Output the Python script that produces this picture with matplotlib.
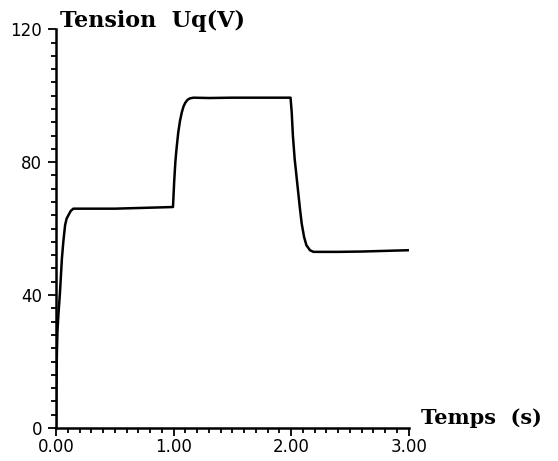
import matplotlib
matplotlib.use("Agg")
from matplotlib import pyplot as plt
from matplotlib.ticker import MultipleLocator
import numpy as np

# time (s) and voltage Uq (V)
temps = [0.0, 0.003, 0.007, 0.012, 0.02, 0.034, 0.05, 0.062, 0.077, 0.09, 0.105,
         0.125, 0.147, 0.3, 0.5, 0.7, 0.9, 0.995,
         1.005, 1.015, 1.025, 1.04, 1.055, 1.07, 1.085, 1.1, 1.12, 1.14, 1.17,
         1.3, 1.5, 1.7, 1.9, 1.995,
         2.005, 2.015, 2.03, 2.045, 2.06, 2.075, 2.09, 2.11, 2.13, 2.16, 2.19,
         2.4, 2.6, 2.8, 3.0]
tension = [0.0, 12, 22, 29, 34, 41, 51, 56, 61, 63, 64,
           65.3, 66, 66, 66, 66.2, 66.4, 66.5,
           74, 80, 84, 89, 92.5, 95, 96.8, 97.9, 98.8, 99.2, 99.4,
           99.3, 99.4, 99.4, 99.4, 99.4,
           95, 88, 81, 76, 71, 66, 61.5, 57.5, 55, 53.5, 53,
           53, 53.1, 53.3, 53.5]

xticks = [0, 1, 2, 3]
xlabels = ["0.00", "1.00", "2.00", "3.00"]
yticks = [0, 40, 80, 120]

fig = plt.figure(figsize=(5.58, 4.61), dpi=100)
ax = fig.add_axes([0.1004, 0.0716, 0.632, 0.865])

ax.plot(temps, tension, color="black", lw=1.8)

ax.set_xlim(0, 3)
ax.set_ylim(0, 120)
ax.set_xticks(xticks)
ax.set_xticklabels(xlabels)
ax.set_yticks(yticks)
ax.xaxis.set_minor_locator(MultipleLocator(0.1))
ax.yaxis.set_minor_locator(MultipleLocator(4))

for s in ["top", "right"]:
    ax.spines[s].set_visible(False)
for s in ["left", "bottom"]:
    ax.spines[s].set_linewidth(1.8)

ax.tick_params(which="both", direction="out", width=1.3, labelsize=12)
ax.tick_params(which="major", length=6)
ax.tick_params(which="minor", length=3.5)
ax.tick_params(axis="x", pad=1)
ax.tick_params(axis="y", pad=4)

fig.text(0.108, 0.955, "Tension  Uq(V)", fontsize=16, fontweight="bold",
         family="DejaVu Serif", va="center", ha="left")
fig.text(0.755, 0.094, "Temps  (s)", fontsize=15, fontweight="bold",
         family="DejaVu Serif", va="center", ha="left")

plt.savefig("out.png", dpi=100)
